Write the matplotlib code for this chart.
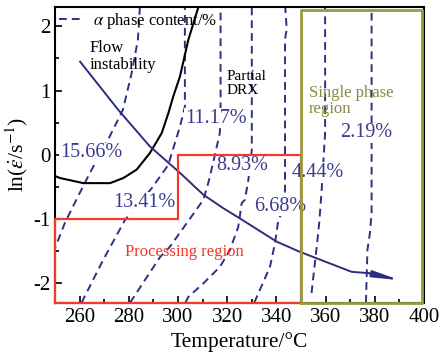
import matplotlib
matplotlib.use("Agg")
import matplotlib.pyplot as plt
from matplotlib.ticker import MultipleLocator
from matplotlib.lines import Line2D

plt.rcParams['font.family'] = ['Liberation Serif', 'DejaVu Serif']
plt.rcParams['mathtext.fontset'] = 'stix'
plt.rcParams['axes.unicode_minus'] = False

# ---- data ----
# alpha phase content contours (temperature, ln strain rate)
c1_T = [284.5, 283.7, 281.2, 277.6, 271.5, 264.2, 258.0, 254.0, 250.0]
c1_y = [2.30, 1.79, 1.28, 0.70, 0.23, -0.28, -0.75, -1.06, -1.45]
c2_T = [260.8, 269.5, 278.5, 289.3, 296.0, 300.8, 302.8, 302.8]
c2_y = [-2.30, -1.64, -1.01, -0.52, -0.16, 0.44, 0.75, 2.30]
c3_T = [280.5, 292.7, 296.7, 300.8, 310.3, 312.3, 314.3, 317.0, 317.3, 317.3]
c3_y = [-2.30, -1.59, -1.43, -1.21, -0.70, -0.44, -0.12, 0.34, 0.70, 2.30]
c4_T = [303.0, 304.2, 310.3, 317.1, 321.1, 324.5, 325.9, 327.2, 328.6, 330.0, 330.0]
c4_y = [-2.30, -2.21, -2.00, -1.74, -1.48, -1.12, -0.75, -0.70, -0.39, 0.08, 2.30]
c5_T = [331.0, 337.4, 339.4, 340.8, 342.8, 343.5, 343.5, 344.2, 343.6]
c5_y = [-2.30, -1.74, -1.38, -1.01, -0.86, -0.55, 1.80, 1.95, 2.30]
c6_T = [354.3, 355.0, 356.4, 357.4, 358.4, 359.8, 359.8]
c6_y = [-2.15, -1.90, -1.43, -1.06, -0.55, 0.34, 2.30]
c7_T = [376.4, 377.0, 378.0, 378.7, 378.7]
c7_y = [-2.30, -1.48, -1.22, -0.90, 2.30]
contours_T = [c1_T, c2_T, c3_T, c4_T, c5_T, c6_T, c7_T]
contours_y = [c1_y, c2_y, c3_y, c4_y, c5_y, c6_y, c7_y]

pct_labels = ['15.66%', '13.41%', '11.17%', '8.93%', '6.68%', '4.44%', '2.19%']
pct_T = [252.0, 273.6, 302.8, 315.7, 330.8, 346.3, 366.0]
pct_y = [0.03, -0.74, 0.57, -0.17, -0.80, -0.27, 0.34]

# flow instability boundary
inst_T = [250.0, 252.0, 261.5, 272.4, 277.8, 283.2, 288.6, 293.4, 296.1, 298.0, 300.8, 304.2, 308.3]
inst_y = [-0.33, -0.36, -0.44, -0.44, -0.36, -0.23, 0.03, 0.34, 0.65, 0.90, 1.22, 1.79, 2.30]

# processing path (solid line with arrow)
path_T = [260.2, 272.4, 275.7, 288.6, 300.8, 310.3, 318.4, 325.2, 340.1, 349.6, 356.4, 370.6, 377.4]
path_y = [1.45, 0.86, 0.70, 0.13, -0.28, -0.62, -0.83, -0.99, -1.35, -1.51, -1.61, -1.82, -1.84]
arrow_tip = (390.2, -1.95)

# regions
proc_T = [250, 250, 300, 300, 350, 350, 250]
proc_y = [-2.3, -1.0, -1.0, 0.0, 0.0, -2.3, -2.3]
single_T = [350, 350, 399.2, 399.2, 350]
single_y = [-2.3, 2.26, 2.26, -2.3, -2.3]

# ---- figure ----
fig = plt.figure(figsize=(4.45, 3.61), dpi=100)
ax = fig.add_axes([0.1236, 0.1615, 0.8292, 0.8191])

dash_color = '#2f2f88'
text_blue = '#3b3b90'

for T, y in zip(contours_T, contours_y):
    ax.plot(T, y, color=dash_color, lw=1.4, linestyle=(0, (4, 2.6)), zorder=2)

for s, T, y in zip(pct_labels, pct_T, pct_y):
    ax.text(T, y, s, color=text_blue, fontsize=14.5, ha='left', va='center',
            bbox=dict(facecolor='white', edgecolor='none', pad=0.5), zorder=3)

ax.plot(inst_T, inst_y, color='black', lw=1.5, zorder=4)
ax.plot(path_T, path_y, color='#2d2d7d', lw=1.4, zorder=5)
ax.annotate('', xy=arrow_tip, xytext=(path_T[-1], path_y[-1]),
            arrowprops=dict(arrowstyle='-|>,head_length=1.3,head_width=0.16',
                            color='#2d2d7d', lw=1.4, mutation_scale=12,
                            shrinkA=0, shrinkB=0), zorder=5)

ax.plot(proc_T, proc_y, color='#f03a2a', lw=1.6, zorder=6, clip_on=False)
ax.plot(single_T, single_y, color='#9a9a40', lw=2.0, zorder=6, clip_on=False)

ax.text(264.2, 1.79, 'Flow\ninstability', fontsize=12, color='black',
        ha='left', va='top', linespacing=1.1, zorder=7)
ax.text(319.9, 1.32, 'Partial\nDRX', fontsize=11, color='black',
        ha='left', va='top', linespacing=1.1, zorder=7)
ax.text(353.2, 1.08, 'Single phase\nregion', fontsize=12, color='#8a8a44',
        ha='left', va='top', linespacing=1.0, zorder=7)
ax.text(278.5, -1.51, 'Processing region', fontsize=12, color='#f03a2a',
        ha='left', va='center', zorder=7)

leg_handle = Line2D([], [], color=dash_color, lw=1.4, linestyle=(0, (4, 2.6)))
ax.legend([leg_handle], [r'$\alpha$ phase content/%'], loc='upper left',
          bbox_to_anchor=(0, 1), frameon=False, fontsize=12, handlelength=1.5,
          handletextpad=0.5, borderaxespad=0.1, borderpad=0.15)

ax.set_xlim(250, 400)
ax.set_ylim(-2.3, 2.3)
ax.xaxis.set_major_locator(MultipleLocator(20))
ax.xaxis.set_minor_locator(MultipleLocator(10))
ax.yaxis.set_major_locator(MultipleLocator(1))
ax.yaxis.set_minor_locator(MultipleLocator(0.5))
ax.set_xticks([260, 280, 300, 320, 340, 360, 380, 400])
ax.tick_params(which='both', direction='in', top=False, right=False, labelsize=15, width=1.2)
ax.tick_params(which='major', length=5)
ax.tick_params(which='minor', length=3)
for sp in ax.spines.values():
    sp.set_linewidth(1.5)

ax.set_xlabel('Temperature/°C', fontsize=15.5, labelpad=4)
ax.set_ylabel(r'ln($\dot{\varepsilon}$/s$^{-1}$)', fontsize=15.5, labelpad=2)

fig.savefig('out.png', dpi=100)
